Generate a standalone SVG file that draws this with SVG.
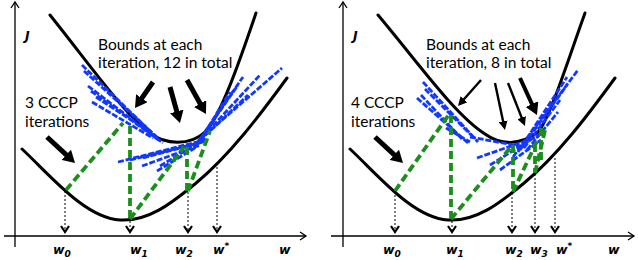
<svg xmlns="http://www.w3.org/2000/svg" width="638" height="260" viewBox="0 0 638 260">
<style>
.ax{stroke:#000;stroke-width:1.3;fill:none}
.chev{stroke:#000;stroke-width:1.3;fill:none}
.curve{stroke:#000;stroke-width:3;fill:none;stroke-linecap:round}
.blue{stroke:#1238ff;stroke-width:2.8;fill:none;stroke-dasharray:6 1.8}
.green{stroke:#1a8f1a;stroke-width:3.8;fill:none;stroke-dasharray:8 4}
.dot{stroke:#000;stroke-width:1;fill:none;stroke-dasharray:2 2}
.vh{stroke:#000;stroke-width:2.2;fill:none;stroke-linejoin:miter}
.big{stroke:#000;stroke-width:5;fill:none}
.thin{stroke:#000;stroke-width:2.4;fill:none}
.mid{stroke:#000;stroke-width:4;fill:none}
.lbl{font-family:Lato,"Liberation Sans",sans-serif;font-size:15.5px;fill:#000}
.var{font-family:"DejaVu Sans",Verdana,sans-serif;font-size:12.5px;font-weight:bold;font-style:italic;fill:#000}
.sub{font-size:9px}
</style>
<defs>
<marker id="hb" viewBox="0 0 12 14" refX="2" refY="7" markerWidth="12" markerHeight="14" markerUnits="userSpaceOnUse" orient="auto"><path d="M0,0 L12,7 L0,14 z" fill="#000"/></marker>
<marker id="ht" viewBox="0 0 9 9" refX="2" refY="4.5" markerWidth="9" markerHeight="9" markerUnits="userSpaceOnUse" orient="auto"><path d="M0,0 L9,4.5 L0,9 z" fill="#000"/></marker>
</defs>

<g id="left-axes">
<line class="ax" x1="15" y1="247" x2="15" y2="2"/>
<polyline class="chev" points="11,8 15,2 19,8"/>
<line class="ax" x1="4" y1="236" x2="306" y2="236"/>
<polyline class="chev" points="300,232 306,236 300,240"/>
<text class="var" x="25" y="40">J</text>
</g>
<g id="right-axes">
<line class="ax" x1="343" y1="247" x2="343" y2="2"/>
<polyline class="chev" points="339,8 343,2 347,8"/>
<line class="ax" x1="331" y1="236" x2="634" y2="236"/>
<polyline class="chev" points="628,232 634,236 628,240"/>
<text class="var" x="353" y="40">J</text>
</g>

<g id="left-curves">
<path class="curve" d="M50,15 C90,65 125,115 150,133 C165,145 190,146 205,132 C220,118 240,60 256,13"/>
<path class="curve" d="M22,149 C50,175 85,218 120,220 C150,222 175,200 195,184 C230,155 260,115 287,78"/>
</g>
<g id="right-curves">
<path class="curve" d="M378,15 C420,65 455,115 485,134 C500,145 520,146 538,132 C550,118 568,60 585,13"/>
<path class="curve" d="M350,149 C378,175 413,218 448,220 C478,222 503,200 523,184 C558,155 588,115 615,78"/>
</g>

<g id="left-bounds">
<line class="blue" x1="82" y1="65" x2="152" y2="133"/>
<line class="blue" x1="84" y1="71" x2="158" y2="138"/>
<line class="blue" x1="88" y1="86" x2="163" y2="143"/>
<line class="blue" x1="91" y1="91" x2="160" y2="141"/>
<line class="blue" x1="92" y1="102" x2="153" y2="138"/>
<line class="blue" x1="96" y1="97" x2="148" y2="131"/>
<line class="blue" x1="118" y1="162" x2="205" y2="140"/>
<line class="blue" x1="130" y1="160" x2="207" y2="141"/>
<line class="blue" x1="142" y1="166" x2="200" y2="145"/>
<line class="blue" x1="143" y1="158" x2="203" y2="142"/>
<line class="blue" x1="157" y1="171" x2="198" y2="146"/>
<line class="blue" x1="160" y1="166" x2="206" y2="138"/>
<line class="blue" x1="198" y1="141" x2="282" y2="68"/>
<line class="blue" x1="197" y1="143" x2="260" y2="75"/>
<line class="blue" x1="200" y1="139" x2="243" y2="77"/>
<line class="blue" x1="202" y1="137" x2="238" y2="85"/>
<line class="blue" x1="204" y1="134" x2="230" y2="92"/>
<line class="blue" x1="194" y1="146" x2="248" y2="95"/>
</g>
<g id="right-bounds">
<line class="blue" x1="423" y1="82" x2="478" y2="142"/>
<line class="blue" x1="425" y1="89" x2="474" y2="138"/>
<line class="blue" x1="417" y1="98" x2="468" y2="143"/>
<line class="blue" x1="421" y1="95" x2="462" y2="139"/>
<line class="blue" x1="446" y1="128" x2="470" y2="142"/>
<line class="blue" x1="470" y1="137" x2="525" y2="147"/>
<line class="blue" x1="477" y1="158" x2="537" y2="137"/>
<line class="blue" x1="490" y1="165" x2="540" y2="134"/>
<line class="blue" x1="500" y1="170" x2="541" y2="140"/>
<line class="blue" x1="513" y1="157" x2="578" y2="70"/>
<line class="blue" x1="518" y1="152" x2="567" y2="77"/>
<line class="blue" x1="520" y1="150" x2="567" y2="85"/>
<line class="blue" x1="524" y1="148" x2="560" y2="100"/>
<line class="blue" x1="527" y1="150" x2="558" y2="112"/>
</g>

<g id="left-steps">
<line class="green" x1="66" y1="190" x2="123" y2="123"/>
<line class="green" x1="130" y1="126" x2="130" y2="219"/>
<line class="green" x1="130" y1="219" x2="184" y2="147"/>
<line class="green" x1="187" y1="147" x2="187" y2="191"/>
<line class="green" x1="188" y1="191" x2="210" y2="131"/>
</g>
<g id="right-steps">
<line class="green" x1="395" y1="191" x2="450" y2="113"/>
<line class="green" x1="451" y1="115" x2="451" y2="219"/>
<line class="green" x1="451" y1="219" x2="510" y2="148"/>
<line class="green" x1="513" y1="145" x2="513" y2="192"/>
<line class="green" x1="513" y1="192" x2="537" y2="141"/>
<line class="green" x1="535" y1="144" x2="535" y2="173"/>
<line class="green" x1="535" y1="173" x2="546" y2="126"/>
<line class="green" x1="541" y1="128" x2="541" y2="163"/>
</g>

<g id="left-projections">
<line class="dot" x1="65" y1="191" x2="65" y2="232"/>
<polyline class="vh" points="61,226 65,232 69,226"/>
<line class="dot" x1="130" y1="221" x2="130" y2="232"/>
<polyline class="vh" points="126,226 130,232 134,226"/>
<line class="dot" x1="188" y1="192" x2="188" y2="232"/>
<polyline class="vh" points="184,226 188,232 192,226"/>
<line class="dot" x1="217" y1="167" x2="217" y2="232"/>
<polyline class="vh" points="213,226 217,232 221,226"/>
</g>
<g id="right-projections">
<line class="dot" x1="395" y1="191" x2="395" y2="232"/>
<polyline class="vh" points="391,226 395,232 399,226"/>
<line class="dot" x1="452" y1="221" x2="452" y2="232"/>
<polyline class="vh" points="448,226 452,232 456,226"/>
<line class="dot" x1="512" y1="193" x2="512" y2="232"/>
<polyline class="vh" points="508,226 512,232 516,226"/>
<line class="dot" x1="535" y1="174" x2="535" y2="232"/>
<polyline class="vh" points="531,226 535,232 539,226"/>
<line class="dot" x1="555" y1="158" x2="555" y2="232"/>
<polyline class="vh" points="551,226 555,232 559,226"/>
</g>

<g id="left-labels">
<text class="var" x="53" y="254">w<tspan class="sub" dy="3">0</tspan></text>
<text class="var" x="130" y="254">w<tspan class="sub" dy="3">1</tspan></text>
<text class="var" x="175" y="254">w<tspan class="sub" dy="3">2</tspan></text>
<text class="var" x="213" y="254">w<tspan class="sub" dy="-5">*</tspan></text>
<text class="var" x="279" y="254">w</text>
</g>
<g id="right-labels">
<text class="var" x="383" y="254">w<tspan class="sub" dy="3">0</tspan></text>
<text class="var" x="446" y="254">w<tspan class="sub" dy="3">1</tspan></text>
<text class="var" x="505" y="254">w<tspan class="sub" dy="3">2</tspan></text>
<text class="var" x="530" y="254">w<tspan class="sub" dy="3">3</tspan></text>
<text class="var" x="556" y="254">w<tspan class="sub" dy="-5">*</tspan></text>
<text class="var" x="608" y="254">w</text>
</g>

<g id="left-notes">
<text class="lbl" x="98" y="50">Bounds at each</text>
<text class="lbl" x="98" y="68">iteration, 12 in total</text>
<text class="lbl" x="25" y="108">3 CCCP</text>
<text class="lbl" x="25" y="127">iterations</text>
</g>
<g id="right-notes">
<text class="lbl" x="426" y="50">Bounds at each</text>
<text class="lbl" x="426" y="68">iteration, 8 in total</text>
<text class="lbl" x="351" y="108">4 CCCP</text>
<text class="lbl" x="351" y="127">iterations</text>
</g>

<g id="connectors">
<line class="big" x1="153" y1="82" x2="140.7" y2="99.8" marker-end="url(#hb)"/>
<line class="big" x1="170" y1="87" x2="177.3" y2="113.4" marker-end="url(#hb)"/>
<line class="big" x1="187" y1="80" x2="201.1" y2="105.3" marker-end="url(#hb)"/>
<line class="big" x1="47" y1="137" x2="67.7" y2="156.2" marker-end="url(#hb)"/>
<line class="thin" x1="481" y1="80" x2="462.6" y2="100.8" marker-end="url(#ht)"/>
<line class="thin" x1="495" y1="83" x2="503.5" y2="123.2" marker-end="url(#ht)"/>
<line class="thin" x1="508" y1="83" x2="522.4" y2="119.5" marker-end="url(#ht)"/>
<line class="mid" x1="520" y1="78" x2="532.8" y2="105.9" marker-end="url(#hb)"/>
<line class="big" x1="375" y1="137" x2="395.7" y2="156.2" marker-end="url(#hb)"/>
</g>
</svg>
